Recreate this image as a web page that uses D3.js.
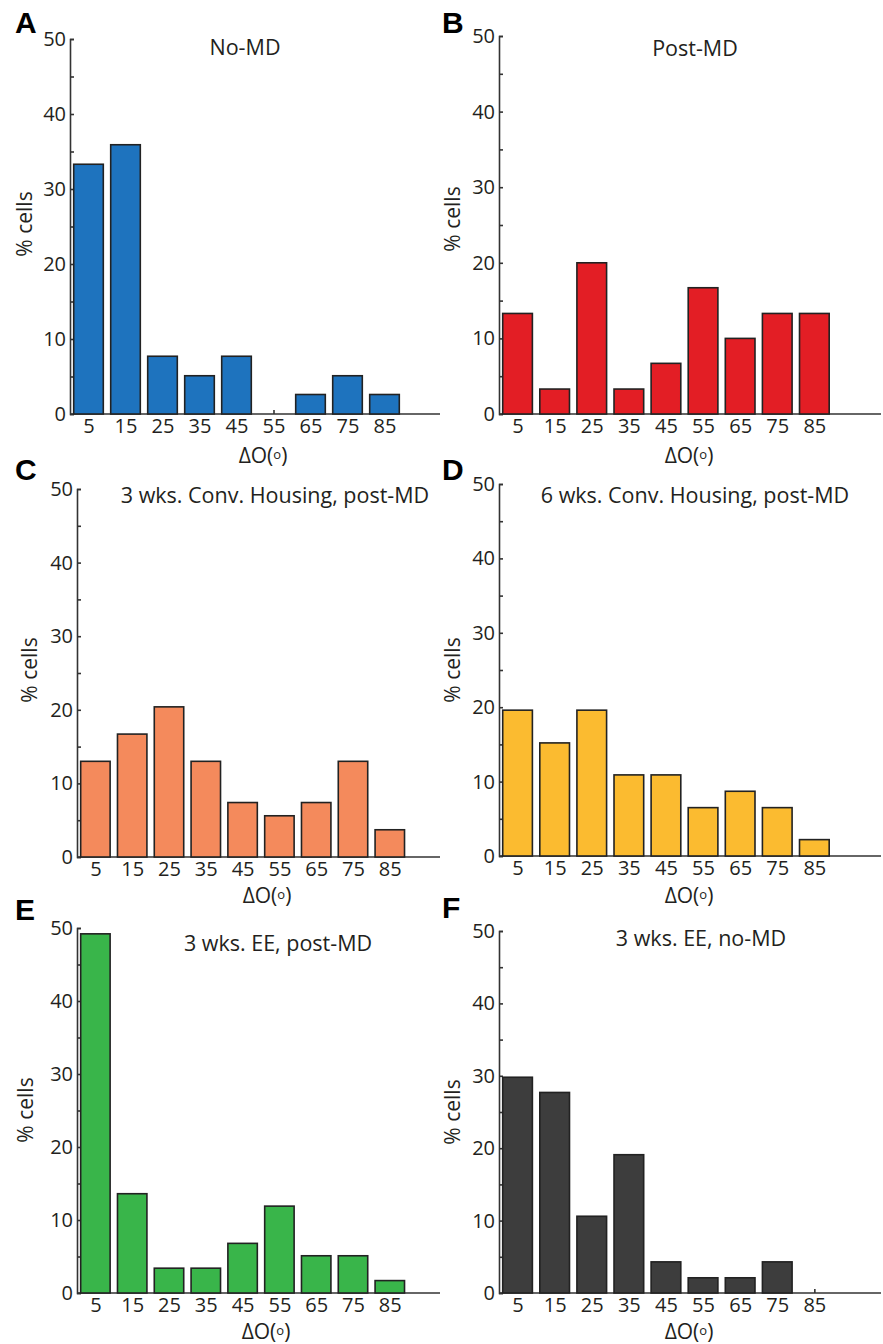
<!DOCTYPE html>
<html>
<head>
<meta charset="utf-8">
<script src="https://cdn.jsdelivr.net/npm/d3@7"></script>
<style>
  body { margin: 0; background: #fff; }
  svg { display: block; }
  text { font-family: "Open Sans", "Noto Sans", sans-serif; fill: #231f20; }
  .letter { font-family: "Liberation Sans", Arial, sans-serif; font-weight: bold; font-size: 30px; fill: #000; }
</style>
</head>
<body>
<div class="graph"></div>
<script>

// bin centres (deg) and tick labels
var bins = [5, 15, 25, 35, 45, 55, 65, 75, 85];
var yTicks = [0, 5, 10, 15, 20, 25, 30, 35, 40, 45, 50];

// % cells per bin
var noMD       = [33.3, 35.9, 7.7, 5.1, 7.7, 0, 2.6, 5.1, 2.6];
var postMD     = [13.3, 3.3, 20.0, 3.3, 6.7, 16.7, 10.0, 13.3, 13.3];
var conv3wk    = [13.0, 16.7, 20.4, 13.0, 7.4, 5.6, 7.4, 13.0, 3.7];
var conv6wk    = [19.6, 15.2, 19.6, 10.9, 10.9, 6.5, 8.7, 6.5, 2.2];
var ee3wkMD    = [49.2, 13.6, 3.4, 3.4, 6.8, 11.9, 5.1, 5.1, 1.7];
var ee3wkNoMD  = [29.8, 27.7, 10.6, 19.1, 4.3, 2.1, 2.1, 4.3, 0];

var letters = ["A", "B", "C", "D", "E", "F"];
var titles = ["No-MD", "Post-MD", "3 wks. Conv. Housing, post-MD",
              "6 wks. Conv. Housing, post-MD", "3 wks. EE, post-MD", "3 wks. EE, no-MD"];
var colors = ["#1e73be", "#e31e25", "#f48a5c", "#fbbb30", "#39b54a", "#3d3d3d"];
var series = [noMD, postMD, conv3wk, conv6wk, ee3wkMD, ee3wkNoMD];

var yLabel = "% cells";

// layout of each panel on the page (pixels)
var layout = [
  {left: 70,  top: 39,  bottom: 414,  width: 370, axisEnd: 440, letter: [15, 33],   title: [245, 55],   xlab: [263, 463],   ylab: [32, 224]},
  {left: 499, top: 36,  bottom: 414,  width: 371, axisEnd: 881, letter: [442, 33],  title: [695, 56],   xlab: [689, 463],   ylab: [460, 219]},
  {left: 77,  top: 489, bottom: 857,  width: 368, axisEnd: 440, letter: [15, 480],  title: [275, 503],  xlab: [267, 903],   ylab: [37, 670]},
  {left: 499, top: 484, bottom: 856,  width: 371, axisEnd: 881, letter: [442, 480], title: [695, 503],  xlab: [689, 903],   ylab: [460, 670]},
  {left: 77,  top: 928, bottom: 1293, width: 368, axisEnd: 440, letter: [15, 920],  title: [278, 951],  xlab: [266, 1339],  ylab: [33, 1110]},
  {left: 499, top: 931, bottom: 1293, width: 371, axisEnd: 881, letter: [442, 918], title: [701, 946],  xlab: [689, 1339],  ylab: [460, 1112]}
];

var svg = d3.select("div.graph").append("svg")
    .attr("width", 883)
    .attr("height", 1344);

var drawPanel = function(i) {
  var p = layout[i];
  var values = series[i];

  var x = d3.scaleLinear().domain([0, 100]).range([p.left, p.left + p.width]);
  var y = d3.scaleLinear().domain([0, 50]).range([p.bottom, p.top]);

  var g = svg.append("g").attr("class", "panel-" + letters[i]);

  // x axis line + inward ticks at bin centres
  g.append("line")
      .attr("x1", p.left).attr("x2", p.axisEnd)
      .attr("y1", p.bottom).attr("y2", p.bottom)
      .attr("stroke", "#333").attr("stroke-width", 1.6);

  var xAxis = g.append("g")
      .attr("transform", "translate(0," + p.bottom + ")")
      .call(d3.axisBottom(x).tickValues(bins).tickSize(-4).tickPadding(5));
  xAxis.select(".domain").remove();

  // y axis, minor ticks every 5, labels every 10
  var yAxis = g.append("g")
      .attr("transform", "translate(" + p.left + ",0)")
      .call(d3.axisLeft(y).tickValues(yTicks).tickSize(-4).tickSizeOuter(-4).tickPadding(4)
        .tickFormat(function(d) { return d % 10 === 0 ? d : ""; }));

  [xAxis, yAxis].forEach(function(a) {
    a.selectAll("path, line").attr("stroke", "#333").attr("stroke-width", 1.6);
    a.selectAll("text")
      .style("font-family", "'Open Sans', sans-serif")
      .style("font-size", "20px")
      .attr("fill", "#231f20");
  });

  // bars (drawn on top of the ticks)
  var data = bins.map(function(b, k) { return {bin: b, val: values[k]}; })
      .filter(function(d) { return d.val > 0; });

  g.selectAll("rect")
    .data(data)
    .enter().append("rect")
      .attr("x", function(d) { return x(d.bin - 4); })
      .attr("width", function(d) { return x(d.bin + 4) - x(d.bin - 4); })
      .attr("y", function(d) { return y(d.val); })
      .attr("height", function(d) { return y(0) - y(d.val); })
      .attr("fill", colors[i])
      .attr("stroke", "#222")
      .attr("stroke-width", 1.6);

  // texts
  g.append("text")
      .attr("class", "letter")
      .attr("x", p.letter[0]).attr("y", p.letter[1])
      .text(letters[i]);

  g.append("text")
      .attr("x", p.title[0]).attr("y", p.title[1])
      .attr("text-anchor", "middle")
      .style("font-size", "21.5px")
      .text(titles[i]);

  // ΔO(°) with a raised small "o" like the original
  var xl = g.append("text")
      .attr("x", p.xlab[0]).attr("y", p.xlab[1])
      .attr("text-anchor", "middle")
      .style("font-size", "21px");
  xl.append("tspan").text("\u0394O(");
  xl.append("tspan").attr("dy", -4).style("font-size", "13px").text("o");
  xl.append("tspan").attr("dy", 4).text(")");

  g.append("text")
      .attr("transform", "translate(" + p.ylab[0] + "," + p.ylab[1] + ") rotate(-90)")
      .attr("text-anchor", "middle")
      .style("font-size", "21px")
      .text(yLabel);
};

for (var i = 0; i < layout.length; i++) {
  drawPanel(i);
}

</script>
</body>
</html>
